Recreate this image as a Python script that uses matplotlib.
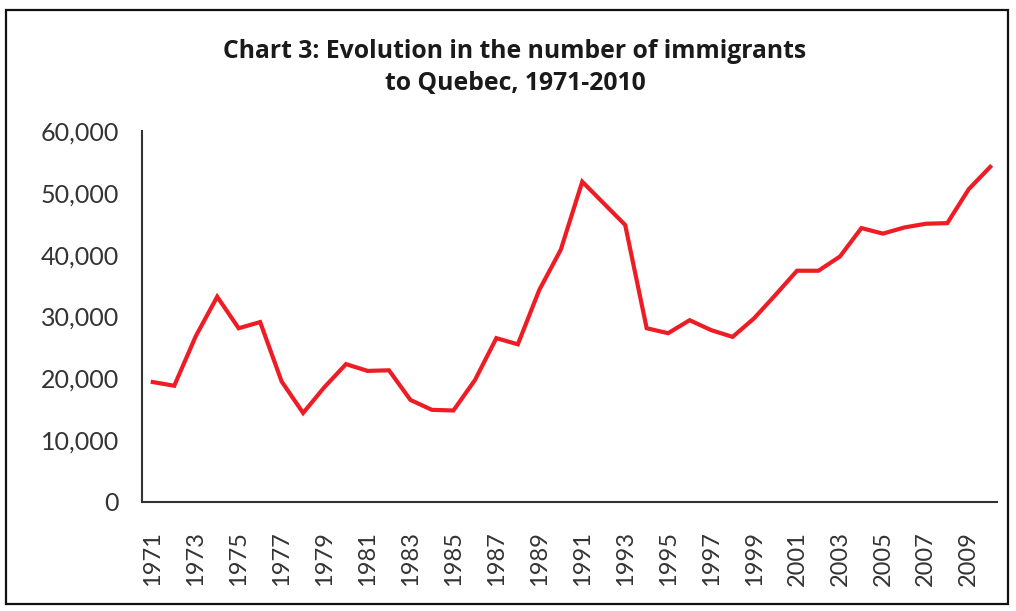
"""
Chart 3: immigrants to Quebec, 1971-2010
"""

import matplotlib
matplotlib.use("Agg")
import matplotlib.pyplot as plt
from matplotlib.patches import Rectangle
from matplotlib.ticker import FuncFormatter

plt.rcParams["font.family"] = ["Lato", "DejaVu Sans"]

years = list(range(1971, 2011))
immigrants = [
    19400, 18800, 26800, 33200, 28100, 29100, 19500, 14400, 18600, 22300,
    21200, 21300, 16500, 14900, 14800, 19700, 26500, 25500, 34300, 40800,
    51800, 48300, 44800, 28100, 27300, 29400, 27800, 26700, 29700, 33500,
    37400, 37400, 39700, 44300, 43400, 44400, 45000, 45100, 50600, 54200,
]
tick_years = years[::2]

fig = plt.figure(figsize=(10.16, 6.11), dpi=100)
ax = fig.add_axes([0.1398, 0.1784, 0.8412, 0.6072])

ax.plot(years, immigrants, color="#ee1c24", linewidth=3, solid_joinstyle="miter")

ax.set_ylim(0, 60000)
ax.set_xlim(1970.5, 2010.3)
ax.set_yticks(range(0, 60001, 10000))
ax.yaxis.set_major_formatter(FuncFormatter(lambda v, p: f"{int(v):,}"))
ax.set_xticks(tick_years)
ax.set_xticklabels([str(y) for y in tick_years], rotation=90)
ax.tick_params(axis="both", length=0, colors="#333333")
ax.tick_params(axis="y", labelsize=18, pad=16.5)
ax.tick_params(axis="x", labelsize=17, pad=21)

for side in ["top", "right"]:
    ax.spines[side].set_visible(False)
for side in ["left", "bottom"]:
    ax.spines[side].set_color("#333333")
    ax.spines[side].set_linewidth(1.5)

fig.text(0.507, 0.889, "Chart 3: Evolution in the number of immigrants\nto Quebec, 1971-2010",
         ha="center", va="center", fontsize=17.8, fontweight="bold",
         family=["Open Sans", "DejaVu Sans"], color="#1a1a1a", linespacing=1.38)

# frame round the whole chart
fig.patches.append(Rectangle((0.006, 0.012), 0.986, 0.972, transform=fig.transFigure,
                             fill=False, edgecolor="#111111", linewidth=1.6))

fig.savefig("out.png", dpi=100)
